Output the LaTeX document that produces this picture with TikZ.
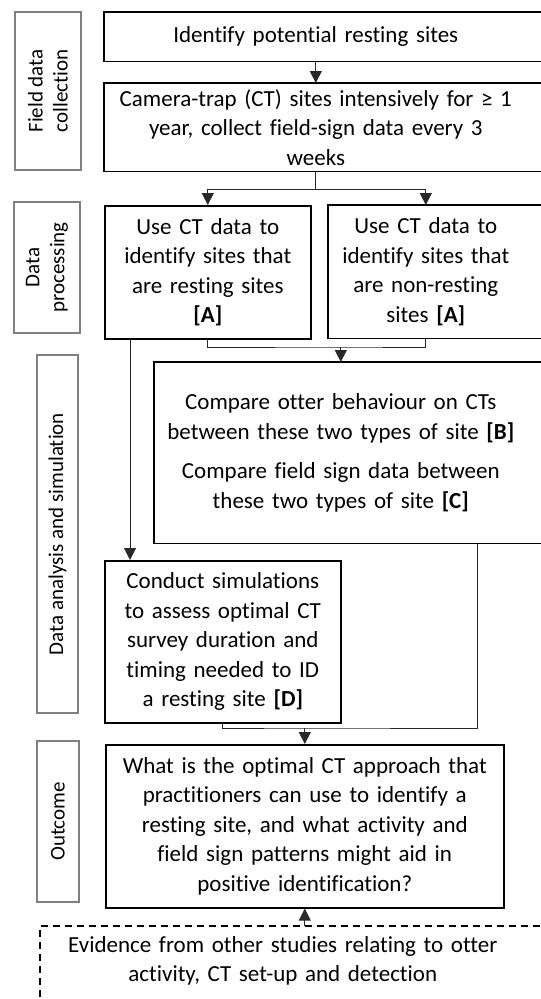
\documentclass[tikz,border=0pt]{standalone}
\usepackage{fontspec}
\setmainfont{Carlito}[Ligatures={NoCommon}]
\usetikzlibrary{arrows.meta, positioning, calc}
\definecolor{phaseGray}{RGB}{128,128,128}
\definecolor{flowGray}{RGB}{40,40,40}

\begin{document}
\begin{tikzpicture}[x=1pt, y=-1pt,
    every node/.style={font=\fontsize{23}{29.5}\selectfont},
    stage/.style={draw=black, line width=1.6pt, align=center, inner sep=0pt, anchor=north west},
    openstage/.style={stage, draw=none},
    phase/.style={draw=phaseGray, line width=1.2pt, align=center, inner sep=0pt, rotate=90,
        font=\fontsize{21}{25}\selectfont},
    frame/.style={draw=black, line width=1.6pt},
    link/.style={draw=flowGray, line width=1pt},
    flow/.style={link, -{Triangle[length=12pt, width=12pt]}}]
\clip (0,0) rectangle (541,999);

% phase labels down the left side
\node[phase, minimum width=158, minimum height=66] (fieldlab) at (48,91) {Field data\\collection};
\node[phase, minimum width=131, minimum height=66] (proclab) at (47,267.5) {Data\\processing};
\node[phase, minimum width=358, minimum height=41] (analab) at (57.5,534) {Data analysis and simulation};
\node[phase, minimum width=161, minimum height=42] (outlab) at (58,821.5) {Outcome};

% steps
\node[openstage, text width=422, minimum height=48] (ident) at (104,12) {Identify potential resting sites};
\node[openstage, text width=422, minimum height=87] (camera) at (104,83)
    {Camera-trap (CT) sites intensively for ≥ 1\\year, collect field-sign data every 3\\weeks};
\node[stage, text width=206, minimum height=133] (rest) at (104,205)
    {Use CT data to\\identify sites that\\are resting sites\\\textbf{[A]}};
\node[openstage, text width=194, minimum height=132] (nonrest) at (328,205)
    {Use CT data to\\identify sites that\\are non-resting\\sites \textbf{[A]}};
\node[openstage, text width=372, minimum height=180] (compare) at (154,362)
    {Compare otter behaviour on CTs\\between these two types of site \textbf{[B]}\\[10pt]
     Compare field sign data between\\these two types of site \textbf{[C]}};
\node[stage, text width=236, minimum height=162] (sim) at (104,560)
    {Conduct simulations\\to assess optimal CT\\survey duration and\\timing needed to ID\\a resting site \textbf{[D]}};
\node[stage, text width=398, minimum height=163] (outcome) at (105,744)
    {What is the optimal CT approach that\\practitioners can use to identify a\\resting site, and what activity and\\field sign patterns might aid in\\positive identification?};
\node[openstage, text width=484, minimum height=68] (evidence) at (40,926)
    {Evidence from other studies relating to otter\\activity, CT set-up and detection};

% frames running off the right edge
\draw[frame] (ident.north west) rectangle ([xshift=40pt]ident.south east);
\draw[frame] (camera.north west) rectangle ([xshift=40pt]camera.south east);
\draw[frame] (nonrest.north west) rectangle ([xshift=40pt]nonrest.south east);
\draw[frame] (compare.north west) rectangle ([xshift=40pt]compare.south east);
\draw[frame, line width=1.2pt, dash pattern=on 7pt off 5pt]
    ([xshift=40pt,yshift=-40pt]evidence.south east) -| (evidence.north west) -- ([xshift=40pt]evidence.north east);

% connectors
\coordinate (split) at ([yshift=-18pt]camera.south);
\coordinate (merge) at ([yshift=15pt]compare.north);
\coordinate (join) at ([yshift=16pt]outcome.north);
\draw[flow] (ident.south) -- (camera.north);
\draw[link] (camera.south) -- (split);
\draw[flow] (split) -| (rest.north);
\draw[flow] (split) -| (nonrest.north);
\draw[link] (rest.south) |- (merge) -| (nonrest.south);
\draw[flow] (merge) -- (compare.north);
\draw[flow] ([xshift=26pt]rest.south west) -- ([xshift=26pt]sim.north west);
\draw[link] ([xshift=137pt]compare.south) |- (join) -| (sim.south);
\draw[flow] (join) -- (outcome.north);
\draw[flow] (evidence.north -| outcome.south) -- (outcome.south);
\end{tikzpicture}
\end{document}
